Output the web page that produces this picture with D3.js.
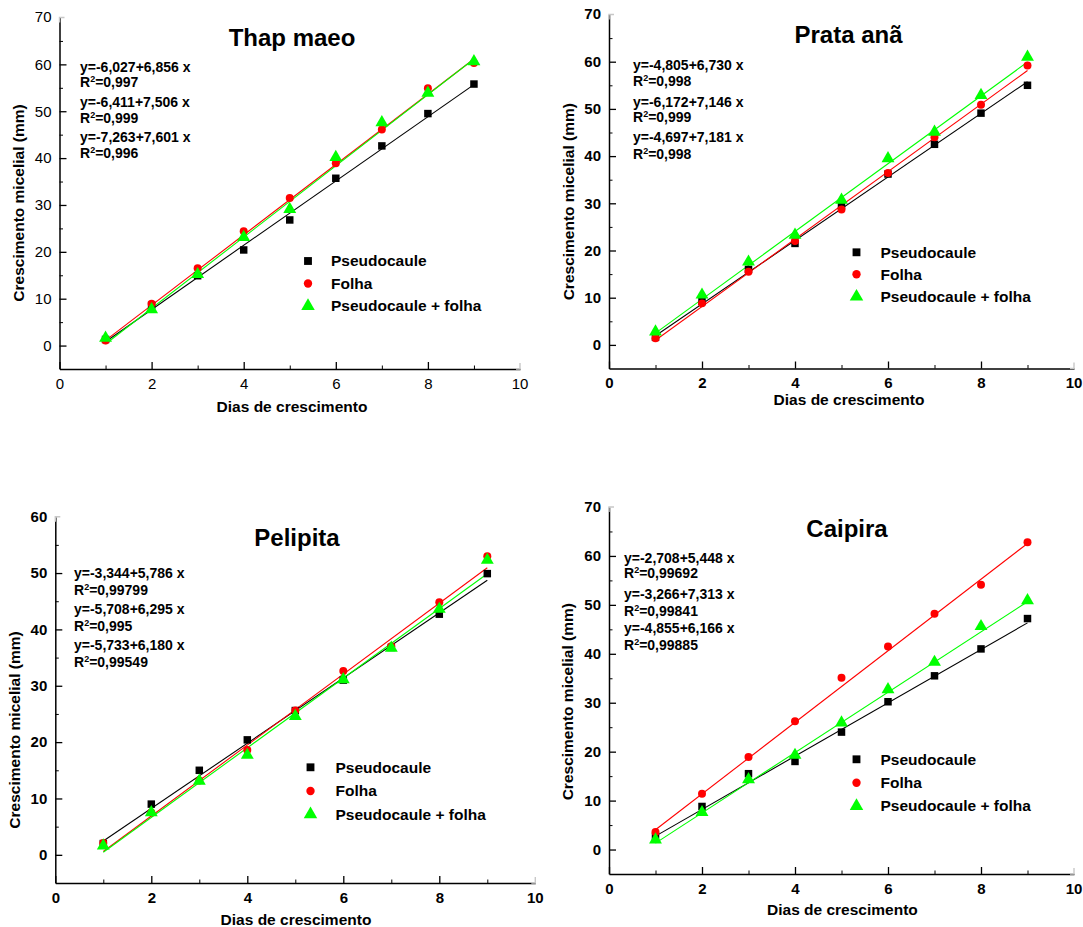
<!DOCTYPE html>
<html>
<head>
<meta charset="utf-8">
<script src="https://cdn.jsdelivr.net/npm/d3@7"></script>
<style>
  body { margin: 0; background: #fff; }
  svg { display: block; font-family: "Liberation Sans", Arial, sans-serif; }
</style>
</head>
<body>
<svg id="chart" width="1083" height="927"></svg>
<script>
// values
var days = [1, 2, 3, 4, 5, 6, 7, 8, 9];
var seriesNames = ["Pseudocaule", "Folha", "Pseudocaule + folha"];
var xTicks = [0, 2, 4, 6, 8, 10];
var xMinor = [1, 3, 5, 7, 9];

var thapPseudo = [1.3, 8.6, 14.9, 20.4, 26.8, 35.7, 42.6, 49.5, 55.8];
var thapFolha  = [1.1, 8.9, 16.5, 24.4, 31.5, 38.9, 46.1, 54.9, 60.3];
var thapMisto  = [1.6, 7.7, 15.2, 23.1, 29.1, 40.2, 47.6, 53.9, 60.6];
var thapFit = [[-6.027, 6.856], [-6.411, 7.506], [-7.263, 7.601]];
var thapEq = ["y=-6,027+6,856 x", "y=-6,411+7,506 x", "y=-7,263+7,601 x"];
var thapR2 = ["0,997", "0,999", "0,996"];

var prataPseudo = [1.6, 9.2, 16.0, 21.5, 29.6, 36.2, 42.5, 49.1, 55.0];
var prataFolha  = [1.4, 8.8, 15.5, 22.0, 28.7, 36.4, 44.0, 50.9, 59.2];
var prataMisto  = [2.8, 10.6, 17.6, 23.3, 30.7, 39.5, 45.1, 52.9, 61.0];
var prataFit = [[-4.805, 6.730], [-6.172, 7.146], [-4.697, 7.181]];
var prataEq = ["y=-4,805+6,730 x", "y=-6,172+7,146 x", "y=-4,697+7,181 x"];
var prataR2 = ["0,998", "0,999", "0,998"];

var peliPseudo = [2.0, 9.0, 15.0, 20.4, 25.6, 31.0, 36.8, 42.7, 49.9];
var peliFolha  = [2.1, 7.5, 13.2, 18.6, 25.6, 32.6, 37.0, 44.8, 53.0];
var peliMisto  = [1.6, 7.5, 13.1, 17.7, 24.6, 31.1, 36.7, 43.6, 52.3];
var peliFit = [[-3.344, 5.786], [-5.708, 6.295], [-5.733, 6.180]];
var peliEq = ["y=-3,344+5,786 x", "y=-5,708+6,295 x", "y=-5,733+6,180 x"];
var peliR2 = ["0,99799", "0,995", "0,99549"];

var caipPseudo = [2.7, 8.8, 15.5, 18.0, 24.0, 30.2, 35.5, 41.0, 47.2];
var caipFolha  = [3.6, 11.4, 18.9, 26.2, 35.1, 41.5, 48.2, 54.1, 62.8];
var caipMisto  = [2.0, 7.6, 14.3, 19.3, 25.9, 32.7, 38.3, 45.6, 50.9];
var caipFit = [[-2.708, 5.448], [-3.266, 7.313], [-4.855, 6.166]];
var caipEq = ["y=-2,708+5,448 x", "y=-3,266+7,313 x", "y=-4,855+6,166 x"];
var caipR2 = ["0,99692", "0,99841", "0,99885"];

var colors = ["#000000", "#ff0000", "#00ff00"];
var symbols = [d3.symbolSquare, d3.symbolCircle, d3.symbolTriangle];
var symbolSizes = [56, 50, 72];

// page layout of the four panels (pixels)
var panels = [{
    title: "Thap maeo", series: [thapPseudo, thapFolha, thapMisto], fit: thapFit, eq: thapEq, r2: thapR2,
    yMax: 70, boldTicks: false,
    xr: [59.5, 520], yr: [369, 17.5], titlePos: [292, 46],
    eqX: 80, eqY: [66.7, 81.7, 102, 118, 136.7, 152.7],
    legX: 308, legTextX: 331, legY: [261, 283.5, 306],
    yTitle: [18.7, 203], xTitle: [292, 407]
}, {
    title: "Prata anã", series: [prataPseudo, prataFolha, prataMisto], fit: prataFit, eq: prataEq, r2: prataR2,
    yMax: 70, boldTicks: true,
    xr: [609, 1074], yr: [368.5, 14.5], titlePos: [848.5, 43],
    eqX: 633, eqY: [65, 81, 101.7, 116.7, 136.7, 154],
    legX: 856.5, legTextX: 880.5, legY: [252.3, 274.3, 296.7],
    yTitle: [569, 201.7], xTitle: [849, 400]
}, {
    title: "Pelipita", series: [peliPseudo, peliFolha, peliMisto], fit: peliFit, eq: peliEq, r2: peliR2,
    yMax: 60, boldTicks: true,
    xr: [55.3, 535.3], yr: [883, 516.7], titlePos: [297, 545.5],
    eqX: 74, eqY: [572.7, 590, 609, 625.7, 645, 661.7],
    legX: 310.5, legTextX: 335.5, legY: [767.3, 791, 814.3],
    yTitle: [15, 730], xTitle: [296, 920]
}, {
    title: "Caipira", series: [caipPseudo, caipFolha, caipMisto], fit: caipFit, eq: caipEq, r2: caipR2,
    yMax: 70, boldTicks: true,
    xr: [609, 1074], yr: [874, 507], titlePos: [847, 536.5],
    eqX: 624, eqY: [558.3, 573.3, 594, 610.7, 627.7, 645],
    legX: 856.5, legTextX: 880.5, legY: [759.3, 782.7, 806],
    yTitle: [567.2, 701.7], xTitle: [842.4, 909.3]
}];

var svg = d3.select("#chart");

panels.forEach(function(p) {
    var g = svg.append("g");
    var x = d3.scaleLinear().domain([0, 10]).range(p.xr);
    var y = d3.scaleLinear().domain([-5, p.yMax]).range(p.yr);
    var yTicks = d3.range(0, p.yMax + 1, 10);
    var yMinor = d3.range(5, p.yMax, 10);
    var tickWeight = p.boldTicks ? "bold" : "normal";

    // minor ticks first, then major axis on top
    g.append("g")
        .attr("transform", "translate(0," + p.yr[0] + ")")
        .call(d3.axisBottom(x).tickValues(xMinor).tickSize(-3.5).tickFormat(""))
        .call(function(a) { a.select(".domain").remove(); });
    g.append("g")
        .attr("transform", "translate(" + p.xr[0] + ",0)")
        .call(d3.axisLeft(y).tickValues(yMinor).tickSize(-3.5).tickFormat(""))
        .call(function(a) { a.select(".domain").remove(); });

    var xa = g.append("g")
        .attr("transform", "translate(0," + p.yr[0] + ")")
        .call(d3.axisBottom(x).tickValues(xTicks.slice(0, -1)).tickSize(-7).tickSizeOuter(0).tickPadding(9)
            .tickFormat(d3.format("d")));
    // label for 10 without a black tick (the frame corner is grey there)
    xa.append("text").attr("x", x(10)).attr("y", 9).attr("dy", "0.71em")
        .attr("text-anchor", "middle").attr("fill", "#000").text("10");

    var ya = g.append("g")
        .attr("transform", "translate(" + p.xr[0] + ",0)")
        .call(d3.axisLeft(y).tickValues(yTicks.slice(0, -1)).tickSize(-7).tickSizeOuter(0).tickPadding(8)
            .tickFormat(d3.format("d")));
    ya.append("text").attr("x", -8).attr("y", y(p.yMax)).attr("dy", "0.32em")
        .attr("text-anchor", "end").attr("fill", "#000").text(p.yMax);

    [xa, ya].forEach(function(a) {
        a.selectAll("text").attr("font-size", 15).attr("font-weight", tickWeight)
            .attr("font-family", "Liberation Sans, Arial, sans-serif");
        a.selectAll("line").attr("stroke", "#000").attr("stroke-width", 1.3);
        a.select(".domain").attr("stroke", "#000").attr("stroke-width", 1.5);
    });

    // grey frame corners at the far ends of the axes
    g.append("path")
        .attr("d", "M" + p.xr[0] + "," + (y(p.yMax) + 5) + "V" + y(p.yMax) + "h5")
        .attr("fill", "none").attr("stroke", "#c8c8c8").attr("stroke-width", 1.4);
    g.append("path")
        .attr("d", "M" + (x(10) - 4) + "," + p.yr[0] + "H" + x(10) + "v-6")
        .attr("fill", "none").attr("stroke", "#c8c8c8").attr("stroke-width", 1.4);

    // fitted lines
    p.fit.forEach(function(c, i) {
        g.append("line")
            .attr("x1", x(1)).attr("y1", y(c[0] + c[1] * 1))
            .attr("x2", x(9)).attr("y2", y(c[0] + c[1] * 9))
            .attr("stroke", colors[i]).attr("stroke-width", 1.1);
    });

    // points
    p.series.forEach(function(vals, i) {
        g.selectAll(null).data(vals).enter().append("path")
            .attr("d", d3.symbol().type(symbols[i]).size(symbolSizes[i]))
            .attr("transform", function(d, j) { return "translate(" + x(days[j]) + "," + y(d) + ")"; })
            .attr("fill", colors[i]);
    });

    // title
    g.append("text")
        .attr("x", p.titlePos[0]).attr("y", p.titlePos[1])
        .attr("text-anchor", "middle").attr("font-size", 24).attr("font-weight", "bold")
        .text(p.title);

    // equations
    p.eq.forEach(function(t, i) {
        g.append("text")
            .attr("x", p.eqX).attr("y", p.eqY[i * 2]).attr("dy", "0.35em")
            .attr("font-size", 14).attr("font-weight", "bold")
            .text(t);
        var r = g.append("text")
            .attr("x", p.eqX).attr("y", p.eqY[i * 2 + 1]).attr("dy", "0.35em")
            .attr("font-size", 14).attr("font-weight", "bold");
        r.append("tspan").text("R");
        r.append("tspan").attr("font-size", 9).attr("dy", -5).text("2");
        r.append("tspan").attr("dy", 5).text("=" + p.r2[i]);
    });

    // legend
    seriesNames.forEach(function(name, i) {
        g.append("path")
            .attr("d", d3.symbol().type(symbols[i]).size(symbolSizes[i] * 1.1))
            .attr("transform", "translate(" + p.legX + "," + p.legY[i] + ")")
            .attr("fill", colors[i]);
        g.append("text")
            .attr("x", p.legTextX).attr("y", p.legY[i]).attr("dy", "0.35em")
            .attr("font-size", 15.5).attr("font-weight", "bold")
            .text(name);
    });

    // axis titles
    g.append("text")
        .attr("transform", "translate(" + p.yTitle[0] + "," + p.yTitle[1] + ") rotate(-90)")
        .attr("dy", "0.35em").attr("text-anchor", "middle")
        .attr("font-size", 15.5).attr("font-weight", "bold")
        .text("Crescimento micelial (mm)");
    g.append("text")
        .attr("x", p.xTitle[0]).attr("y", p.xTitle[1]).attr("dy", "0.35em")
        .attr("text-anchor", "middle").attr("font-size", 15.5).attr("font-weight", "bold")
        .text("Dias de crescimento");
});
</script>
</body>
</html>
